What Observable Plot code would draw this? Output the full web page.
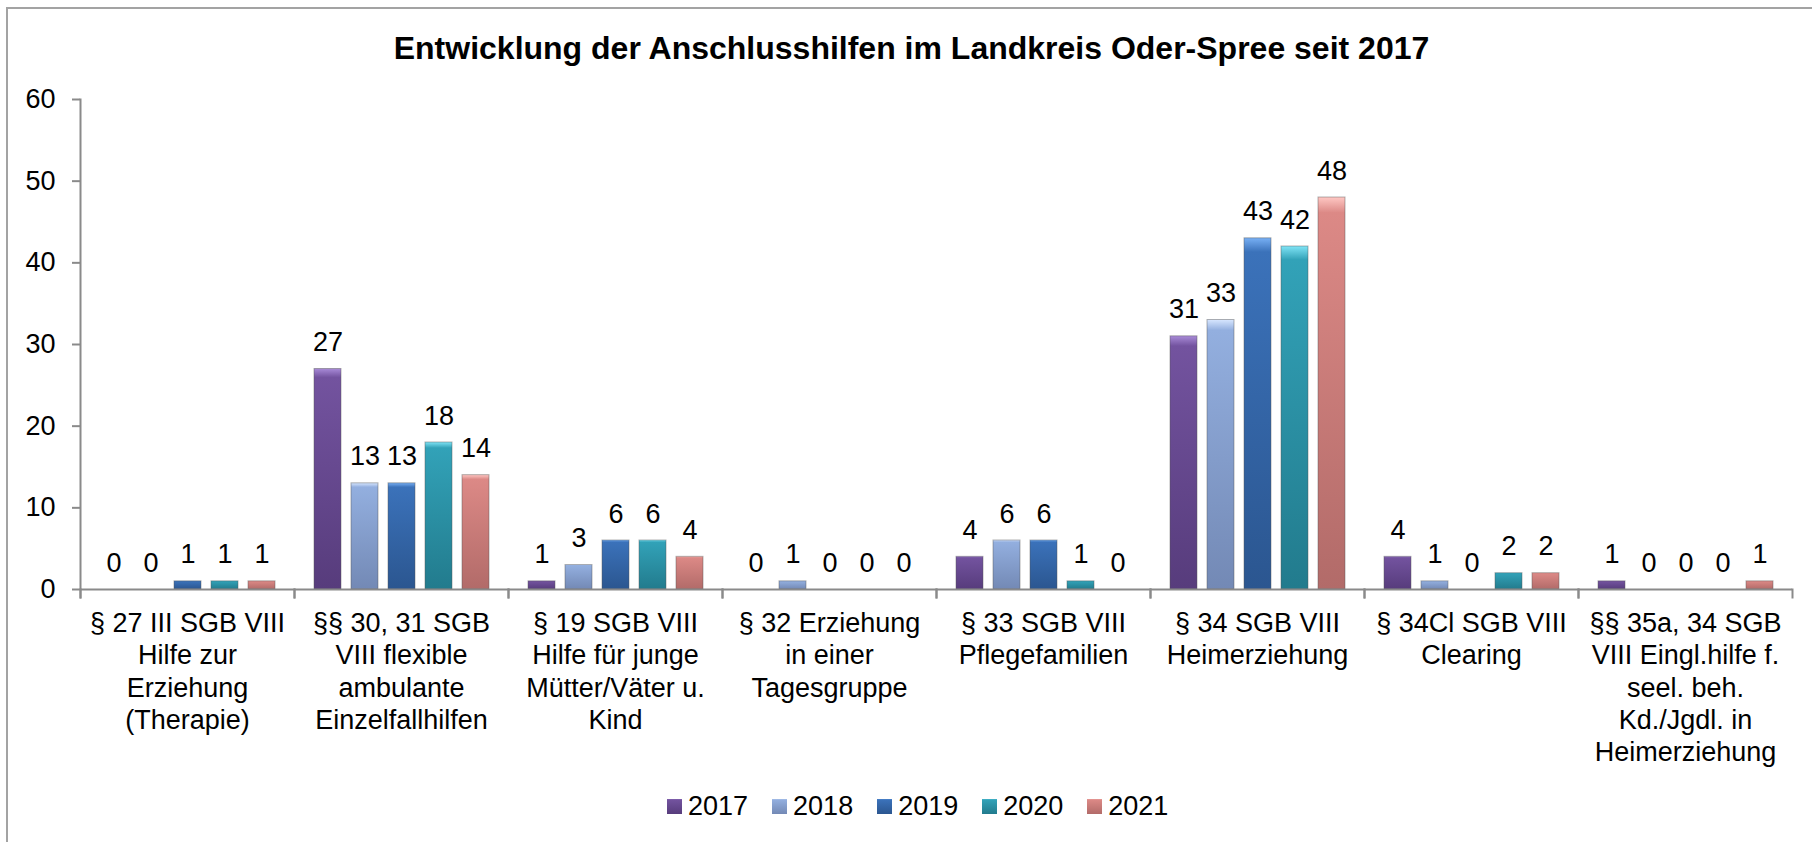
<!DOCTYPE html>
<html><head><meta charset="utf-8">
<script src="https://cdn.jsdelivr.net/npm/d3@7"></script>
<script src="https://cdn.jsdelivr.net/npm/@observablehq/plot@0.6"></script>
<style>
body{margin:0;width:1812px;height:842px;overflow:hidden;background:#fff;font-family:"Liberation Sans",Arial,sans-serif;position:relative}
#frame{position:absolute;left:6px;top:7px;width:2000px;height:1000px;border-left:2px solid #a3a3a3;border-top:2px solid #a3a3a3;}
#title{position:absolute;left:0;top:32px;width:1812px;padding-left:11px;box-sizing:border-box;text-align:center;font-weight:bold;font-size:32px;line-height:1;color:#000}
#chart{position:absolute;left:0;top:75px}
#legend{position:absolute;left:667px;top:790px}
.lg-swatch{margin-right:24px !important}
.lg-swatch>svg{margin-right:6px !important}
</style></head><body>
<div id="frame"></div>
<div id="title">Entwicklung der Anschlusshilfen im Landkreis Oder-Spree seit 2017</div>
<div id="chart"></div>
<div id="legend"></div>
<script>
const categories = [
  "§ 27 III SGB VIII\nHilfe zur\nErziehung\n(Therapie)",
  "§§ 30, 31 SGB\nVIII flexible\nambulante\nEinzelfallhilfen",
  "§ 19 SGB VIII\nHilfe für junge\nMütter/Väter u.\nKind",
  "§ 32 Erziehung\nin einer\nTagesgruppe",
  "§ 33 SGB VIII\nPflegefamilien",
  "§ 34 SGB VIII\nHeimerziehung",
  "§ 34Cl SGB VIII\nClearing",
  "§§ 35a, 34 SGB\nVIII Eingl.hilfe f.\nseel. beh.\nKd./Jgdl. in\nHeimerziehung"
];
const years = ["2017", "2018", "2019", "2020", "2021"];
const v2017 = [0, 27, 1, 0, 4, 31, 4, 1];
const v2018 = [0, 13, 3, 1, 6, 33, 1, 0];
const v2019 = [1, 13, 6, 0, 6, 43, 0, 0];
const v2020 = [1, 18, 6, 0, 1, 42, 2, 0];
const v2021 = [1, 14, 4, 0, 0, 48, 2, 1];
const yTicks = [0, 10, 20, 30, 40, 50, 60];
// [light, main, dark] per year
const colorStops = [
  ["#a98bd8", "#73539f", "#573c7c"],
  ["#d8e7ff", "#93afdf", "#7389b5"],
  ["#78b0f5", "#3b72ba", "#2b5690"],
  ["#80e4f6", "#32a2b8", "#227b8d"],
  ["#ffc8c4", "#dc8986", "#b26b69"]
];

const series = {"2017": v2017, "2018": v2018, "2019": v2019, "2020": v2020, "2021": v2021};
const data = years.flatMap(y => categories.map((c, i) => ({category: c, year: y, value: series[y][i]})));

const W = 1812, H = 705, mt = 24, mb = 191, ml = 80, mr = 20;
const plotH = H - mt - mb;
const axisGray = "#8a8a8a";
const font = '"Liberation Sans", Arial, sans-serif';

const chart = Plot.plot({
  width: W, height: H, marginTop: mt, marginBottom: mb, marginLeft: ml, marginRight: mr,
  style: {fontFamily: font, fontSize: "27px", color: "#000", background: "transparent", overflow: "visible"},
  fx: {domain: categories, padding: 0, label: null},
  x: {domain: years, paddingInner: 0.28, paddingOuter: 0.51, axis: null},
  y: {domain: [0, 60], label: null},
  color: {type: "ordinal", domain: years, range: years.map(y => `url(#grad${y})`)},
  marks: [
    Plot.barY(data, {fx: "category", x: "year", y: "value", fill: "year", stroke: "#555", strokeOpacity: 0.45, strokeWidth: 1}),
    Plot.ruleY([0], {stroke: axisGray, strokeWidth: 2}),
    Plot.frame({anchor: "left", insetTop: plotH, insetBottom: -8, stroke: axisGray, strokeWidth: 2}),
    Plot.frame({anchor: "right", insetTop: plotH, insetBottom: -8, stroke: axisGray, strokeWidth: 2}),
    Plot.frame({anchor: "left", facetAnchor: "left", insetBottom: -8, stroke: axisGray, strokeWidth: 2}),
    Plot.text(data, {fx: "category", x: "year", y: "value", text: d => String(d.value), dy: -18, lineAnchor: "bottom", fill: "#000"}),
    Plot.axisY({ticks: yTicks, tickSize: 8, tickPadding: 17, stroke: axisGray, strokeWidth: 2, fill: "#000", label: null}),
    Plot.axisFx({anchor: "bottom", tickSize: 0, tickPadding: 20, lineHeight: 1.19, label: null, fill: "#000"})
  ]
});

const svg = chart.tagName.toLowerCase() === "svg" ? chart : chart.querySelector("svg");
const defs = d3.select(svg).insert("defs", ":first-child");
years.forEach((y, i) => {
  const [light, main, dark] = colorStops[i];
  const g = defs.append("linearGradient").attr("id", `grad${y}`).attr("x1", 0).attr("y1", 0).attr("x2", 0).attr("y2", 1);
  g.append("stop").attr("offset", "0%").attr("stop-color", light);
  g.append("stop").attr("offset", "4%").attr("stop-color", main);
  g.append("stop").attr("offset", "100%").attr("stop-color", dark);
});
document.getElementById("chart").appendChild(chart);

const legend = chart.legend("color", {className: "lg", swatchSize: 15, style: {fontSize: "27px", fontFamily: font, color: "#000"}});
document.getElementById("legend").appendChild(legend);
</script>
</body></html>
